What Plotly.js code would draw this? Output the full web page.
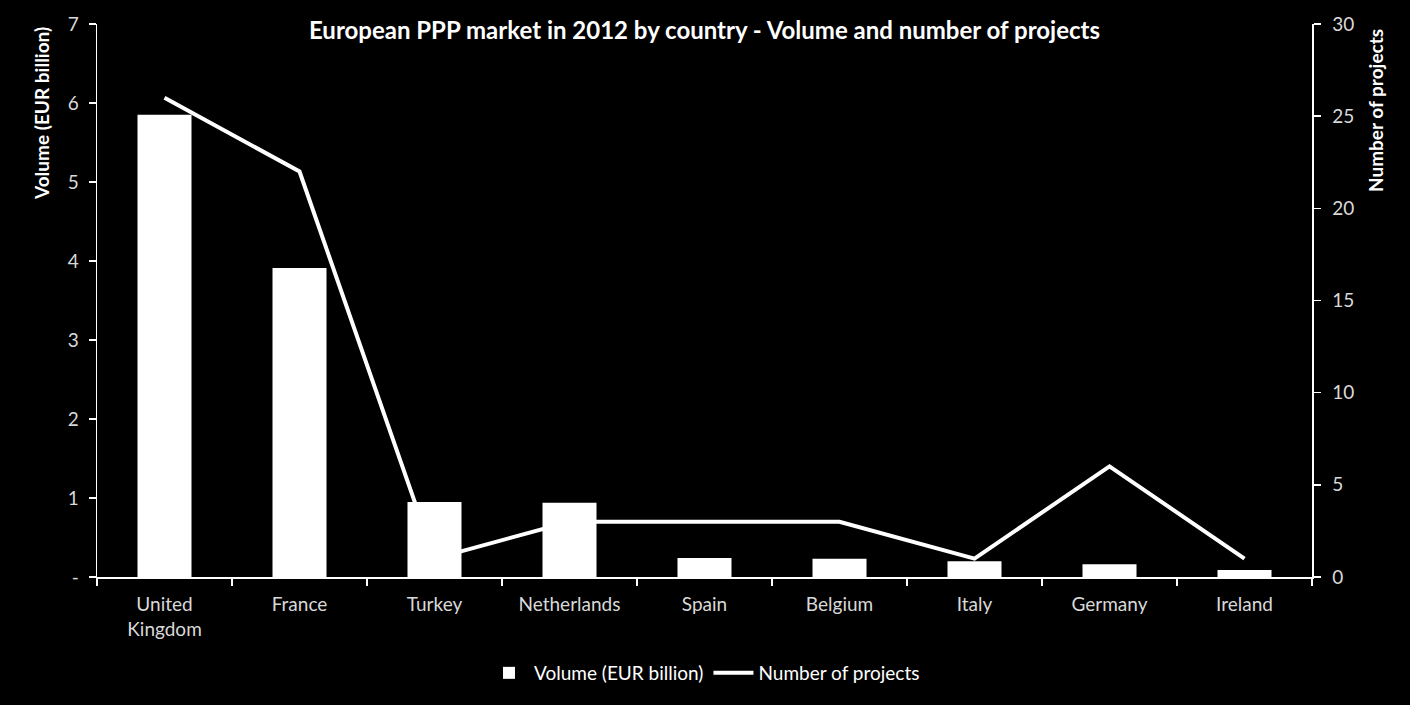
<!DOCTYPE html>
<html>
<head>
<meta charset="utf-8">
<script src="https://cdn.plot.ly/plotly-3.0.1.min.js"></script>
<style>html,body{margin:0;padding:0;background:#000;}#chart{width:1410px;height:705px;}</style>
</head>
<body>
<div id="chart"></div>
<script>
const countries = ["United<br>Kingdom", "France", "Turkey", "Netherlands", "Spain", "Belgium", "Italy", "Germany", "Ireland"];
const volume = [5.85, 3.91, 0.95, 0.94, 0.24, 0.23, 0.20, 0.16, 0.09];
const projects = [26, 22, 1, 3, 3, 3, 1, 6, 1];
const leftTickVals = [0, 1, 2, 3, 4, 5, 6, 7];
const leftTickText = ["-", "1", "2", "3", "4", "5", "6", "7"];

const FONT = "Lato, 'Open Sans', sans-serif";
const data = [
  {
    type: "bar", x: countries, y: volume, name: "Volume (EUR billion)",
    marker: {color: "#ffffff", line: {width: 0}}, yaxis: "y"
  },
  {
    type: "scatter", mode: "lines", x: countries, y: projects, name: "Number of projects",
    line: {color: "#ffffff", width: 4}, yaxis: "y2"
  }
];
const layout = {
  width: 1410, height: 705,
  paper_bgcolor: "#000", plot_bgcolor: "#000",
  margin: {l: 97, r: 98, t: 24, b: 128},
  font: {family: FONT, color: "#d9d9d9", size: 19},
  bargap: 0.6,
  showlegend: true,
  title: {
    text: "<b>European PPP market in 2012 by country - Volume and number of projects</b>",
    font: {family: FONT, size: 24, color: "#ffffff"},
    x: 0.5, xref: "paper", xanchor: "center",
    y: 1 - 31/705, yref: "container", yanchor: "middle"
  },
  xaxis: {
    type: "category", showgrid: false, zeroline: false,
    showline: true, linecolor: "#ffffff", linewidth: 1.5,
    ticks: "outside", tickson: "boundaries", ticklen: 7, tickcolor: "#ffffff", tickwidth: 1.5,
    ticklabelstandoff: 10,
    tickfont: {family: FONT, size: 19, color: "#d9d9d9"}
  },
  yaxis: {
    range: [0, 7], tickvals: leftTickVals, ticktext: leftTickText,
    showgrid: false, zeroline: false,
    showline: true, linecolor: "#ffffff", linewidth: 1.5,
    ticks: "outside", ticklen: 7, tickcolor: "#ffffff", tickwidth: 1.5,
    ticklabelstandoff: 6,
    tickfont: {family: FONT, size: 19, color: "#d9d9d9"}
  },
  yaxis2: {
    range: [0, 30], dtick: 5, overlaying: "y", side: "right",
    showgrid: false, zeroline: false,
    showline: true, linecolor: "#ffffff", linewidth: 1.5,
    ticks: "outside", ticklen: 7, tickcolor: "#ffffff", tickwidth: 1.5,
    ticklabelstandoff: 8,
    tickfont: {family: FONT, size: 19, color: "#d9d9d9"}
  },
  legend: {
    orientation: "h", x: 0.5, xanchor: "center", y: (577 - 673) / 553, yanchor: "middle",
    font: {family: FONT, size: 19, color: "#ffffff"}, bgcolor: "rgba(0,0,0,0)",
    itemwidth: 40
  },
  annotations: [
    {
      text: "<b>Volume (EUR billion)</b>", xref: "paper", yref: "paper",
      x: (42 - 97) / 1215, y: 1 - (114 - 24) / 553, textangle: -90, showarrow: false,
      font: {family: FONT, size: 19, color: "#ffffff"}, xanchor: "center", yanchor: "middle"
    },
    {
      text: "<b>Number of projects</b>", xref: "paper", yref: "paper",
      x: (1375 - 97) / 1215, y: 1 - (111 - 24) / 553, textangle: -90, showarrow: false,
      font: {family: FONT, size: 19, color: "#ffffff"}, xanchor: "center", yanchor: "middle"
    }
  ]
};
Plotly.newPlot("chart", data, layout, {displayModeBar: false, staticPlot: true});
</script>
</body>
</html>
